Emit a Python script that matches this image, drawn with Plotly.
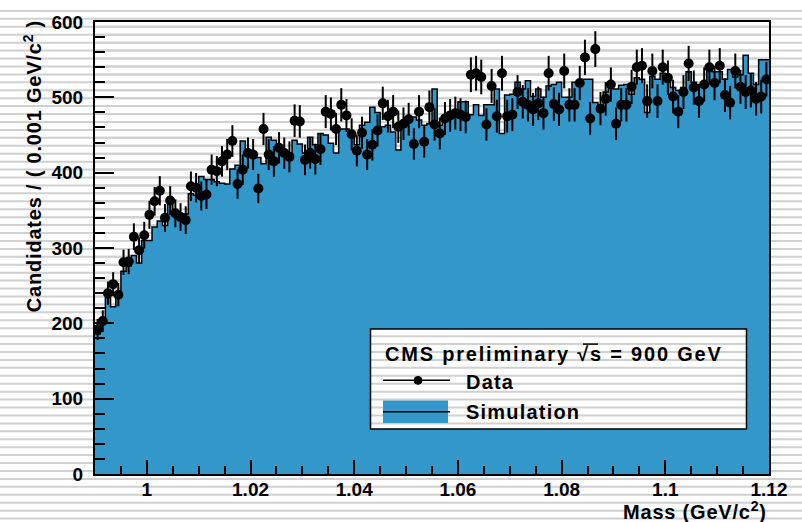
import numpy as np
import plotly.graph_objects as go

# Binning: 130 bins of 0.001 GeV/c^2 between 0.99 and 1.12
x_min, x_max, bin_w = 0.99, 1.12, 0.001
y_min, y_max = 0, 600

data_counts = [
    192, 203, 240, 252, 238, 281, 282, 315, 297, 317,
    344, 362, 376, 340, 363, 346, 341, 337, 382, 380,
    369, 371, 404, 402, 415, 424, 442, 385, 404, 426,
    424, 379, 458, 424, 415, 433, 426, 421, 469, 468,
    417, 426, 418, 431, 481, 478, 458, 490, 476, 451,
    429, 453, 424, 437, 456, 492, 475, 481, 461, 465,
    471, 438, 481, 441, 487, 464, 452, 472, 476, 479,
    477, 474, 530, 532, 527, 464, 515, 475, 532, 475,
    477, 507, 494, 490, 484, 492, 479, 532, 491, 484,
    535, 490, 490, 519, 553, 472, 564, 485, 498, 517,
    465, 490, 490, 514, 540, 542, 495, 535, 495, 540,
    526, 501, 481, 507, 545, 513, 495, 517, 540, 519,
    542, 503, 493, 535, 514, 507, 509, 498, 501, 524,
]

sim_counts = [
    186, 200, 234, 222, 236, 269, 276, 290, 280, 310,
    310, 328, 336, 330, 358, 349, 345, 345, 372, 370,
    395, 391, 391, 388, 386, 385, 405, 410, 442, 426,
    424, 420, 412, 447, 443, 428, 426, 426, 443, 438,
    426, 447, 437, 452, 450, 439, 426, 458, 458, 454,
    437, 463, 467, 487, 480, 461, 463, 454, 430, 465,
    467, 474, 470, 463, 465, 511, 463, 476, 477, 480,
    494, 494, 477, 490, 476, 490, 490, 511, 452, 503,
    504, 520, 511, 522, 501, 511, 500, 515, 517, 520,
    500, 500, 520, 517, 524, 524, 493, 490, 507, 515,
    511, 516, 517, 504, 526, 524, 480, 528, 524, 532,
    520, 513, 509, 513, 534, 520, 517, 517, 540, 534,
    534, 524, 537, 527, 530, 556, 532, 517, 550, 550,
]

x_ticks = [1.00, 1.02, 1.04, 1.06, 1.08, 1.10, 1.12]
x_tick_text = ["1", "1.02", "1.04", "1.06", "1.08", "1.1", "1.12"]
y_ticks = [0, 100, 200, 300, 400, 500, 600]

n_bins = len(data_counts)
edges = x_min + bin_w * np.arange(n_bins + 1)
centers = 0.5 * (edges[:-1] + edges[1:])
data_err = np.sqrt(np.array(data_counts, dtype=float))

# Page geometry (pixels)
W, H = 802, 522
ML, MR, MT, MB = 95, 33, 13, 48
PW, PH = W - ML - MR, H - MT - MB

def px(x):
    """pixel column -> paper x"""
    return (x - ML) / PW

def py(y):
    """pixel row -> paper y"""
    return (H - MB - y) / PH

def dx(x):
    """pixel column -> data x"""
    return x_min + px(x) * (x_max - x_min)

def dy(y):
    """pixel row -> data y"""
    return y_min + py(y) * (y_max - y_min)

FONT = "Liberation Sans, Arial, Helvetica, sans-serif"
BLUE = "#3497ca"
STRIPE = "#d0d0d0"

# Row positions of the horizontal page striping
stripe_step = 8.09
stripe_ys = []
yy = 1.7
while yy < H + 2:
    stripe_ys.append(yy)
    yy += stripe_step

def hlines(xa, xb, rows):
    xs, ys = [], []
    for r in rows:
        xs += [xa, xb, None]
        ys += [dy(r), dy(r), None]
    return xs, ys

# Legend box extent (pixels)
LX0, LX1, LY0, LY1 = 370.5, 746.5, 326, 428

fig = go.Figure()

# Striping inside the frame, underneath the histogram
sx, sy = hlines(x_min, x_max, [r for r in stripe_ys if MT < r < H - MB])
fig.add_trace(go.Scatter(x=sx, y=sy, mode="lines", line=dict(color=STRIPE, width=2),
                         hoverinfo="skip", showlegend=False))

# Simulation: filled step histogram with black outline
sim_step = list(sim_counts) + [sim_counts[-1]]
fig.add_trace(go.Scatter(
    x=edges, y=sim_step, mode="lines", line_shape="hv",
    line=dict(color="black", width=1.5),
    fill="tozeroy", fillcolor=BLUE, hoverinfo="skip",
    name="Simulation", showlegend=False,
))

# Legend panel: white ground with the same striping
fig.add_trace(go.Scatter(
    x=[dx(LX0), dx(LX1), dx(LX1), dx(LX0), dx(LX0)],
    y=[dy(LY1), dy(LY1), dy(LY0), dy(LY0), dy(LY1)],
    mode="lines", fill="toself", fillcolor="white", line=dict(width=0),
    hoverinfo="skip", showlegend=False,
))
lx, ly = hlines(dx(LX0), dx(LX1), [r for r in stripe_ys if LY0 + 1 < r < LY1 - 1])
fig.add_trace(go.Scatter(x=lx, y=ly, mode="lines", line=dict(color=STRIPE, width=2),
                         hoverinfo="skip", showlegend=False))

# Data: points with Poisson error bars
fig.add_trace(go.Scatter(
    x=centers, y=data_counts, mode="markers",
    marker=dict(color="black", size=10, line=dict(width=0)),
    error_y=dict(type="data", array=data_err, color="black", thickness=2, width=0),
    name="Data", showlegend=False,
))

shapes = []

# Striping outside the frame
for r in stripe_ys:
    shapes.append(dict(type="line", xref="paper", yref="paper",
                       x0=px(-2), x1=px(W + 2), y0=py(r), y1=py(r),
                       line=dict(color=STRIPE, width=2), layer="below"))

# Legend frame and entry symbols
shapes.append(dict(type="rect", xref="x", yref="y",
                   x0=dx(LX0), x1=dx(LX1), y0=dy(LY1), y1=dy(LY0),
                   fillcolor="rgba(0,0,0,0)", line=dict(color="black", width=1.5),
                   layer="above"))
shapes.append(dict(type="line", xref="x", yref="y",
                   x0=dx(383), x1=dx(450), y0=dy(378.5), y1=dy(378.5),
                   line=dict(color="black", width=1.5), layer="above"))
shapes.append(dict(type="circle", xref="x", yref="y",
                   x0=dx(414), x1=dx(422), y0=dy(382.5), y1=dy(374.5),
                   fillcolor="black", line=dict(color="black", width=1), layer="above"))
shapes.append(dict(type="rect", xref="x", yref="y",
                   x0=dx(383), x1=dx(448), y0=dy(422), y1=dy(399),
                   fillcolor=BLUE, line=dict(width=0), layer="above"))
shapes.append(dict(type="line", xref="x", yref="y",
                   x0=dx(383), x1=dx(450), y0=dy(410.5), y1=dy(410.5),
                   line=dict(color="black", width=1.5), layer="above"))
# Bar of the square-root sign over "s"
shapes.append(dict(type="line", xref="x", yref="y",
                   x0=dx(583), x1=dx(598), y0=dy(341.5), y1=dy(341.5),
                   line=dict(color="black", width=1.5), layer="above"))

LEG_FONT = dict(family=FONT, size=20, color="black", weight="bold")
TITLE_FONT = dict(family=FONT, size=20, color="black", weight="bold")

annotations = [
    dict(text="<span style='letter-spacing:1.8px'>CMS preliminary \u221as = 900 GeV</span>",
         x=px(383), y=py(352), xref="paper", yref="paper",
         xanchor="left", yanchor="middle", showarrow=False, font=LEG_FONT),
    dict(text="<span style='letter-spacing:1.2px'>Data</span>",
         x=px(464), y=py(380), xref="paper", yref="paper",
         xanchor="left", yanchor="middle", showarrow=False, font=LEG_FONT),
    dict(text="<span style='letter-spacing:1.2px'>Simulation</span>",
         x=px(464), y=py(411), xref="paper", yref="paper",
         xanchor="left", yanchor="middle", showarrow=False, font=LEG_FONT),
    # Axis titles
    dict(text="<span style='letter-spacing:0.8px'>Mass (GeV/c<sup>2</sup>)</span>",
         x=px(769), y=py(511), xref="paper", yref="paper",
         xanchor="right", yanchor="middle", showarrow=False, font=TITLE_FONT),
    dict(text="<span style='letter-spacing:0.8px'>Candidates / ( 0.001 GeV/c<sup>2</sup> )</span>",
         x=px(32), y=py(160), xref="paper", yref="paper",
         xanchor="center", yanchor="middle", textangle=-90, showarrow=False,
         font=TITLE_FONT),
]

fig.update_layout(
    width=W, height=H,
    margin=dict(l=ML, r=MR, t=MT, b=MB, pad=0),
    paper_bgcolor="white", plot_bgcolor="rgba(0,0,0,0)",
    shapes=shapes, annotations=annotations,
    showlegend=False,
    font=dict(family=FONT, color="black"),
    xaxis=dict(
        range=[x_min, x_max], tickmode="array", tickvals=x_ticks, ticktext=x_tick_text,
        ticks="inside", ticklen=14, tickwidth=2, tickcolor="black",
        minor=dict(dtick=0.005, tick0=1.0, ticks="inside", ticklen=8,
                   tickwidth=2, tickcolor="black", showgrid=False),
        showline=True, linecolor="black", linewidth=2, mirror=True,
        showgrid=False, zeroline=False, ticklabelstandoff=-3,
        tickfont=dict(family=FONT, size=19, color="black", weight="bold"),
    ),
    yaxis=dict(
        range=[y_min, y_max], tickmode="array", tickvals=y_ticks,
        ticks="inside", ticklen=19, tickwidth=2, tickcolor="black",
        minor=dict(dtick=20, tick0=0, ticks="inside", ticklen=10,
                   tickwidth=2, tickcolor="black", showgrid=False),
        showline=True, linecolor="black", linewidth=2, mirror=True,
        showgrid=False, zeroline=False, ticklabelstandoff=6,
        tickfont=dict(family=FONT, size=19, color="black", weight="bold"),
    ),
)

fig.write_html("out.html")
